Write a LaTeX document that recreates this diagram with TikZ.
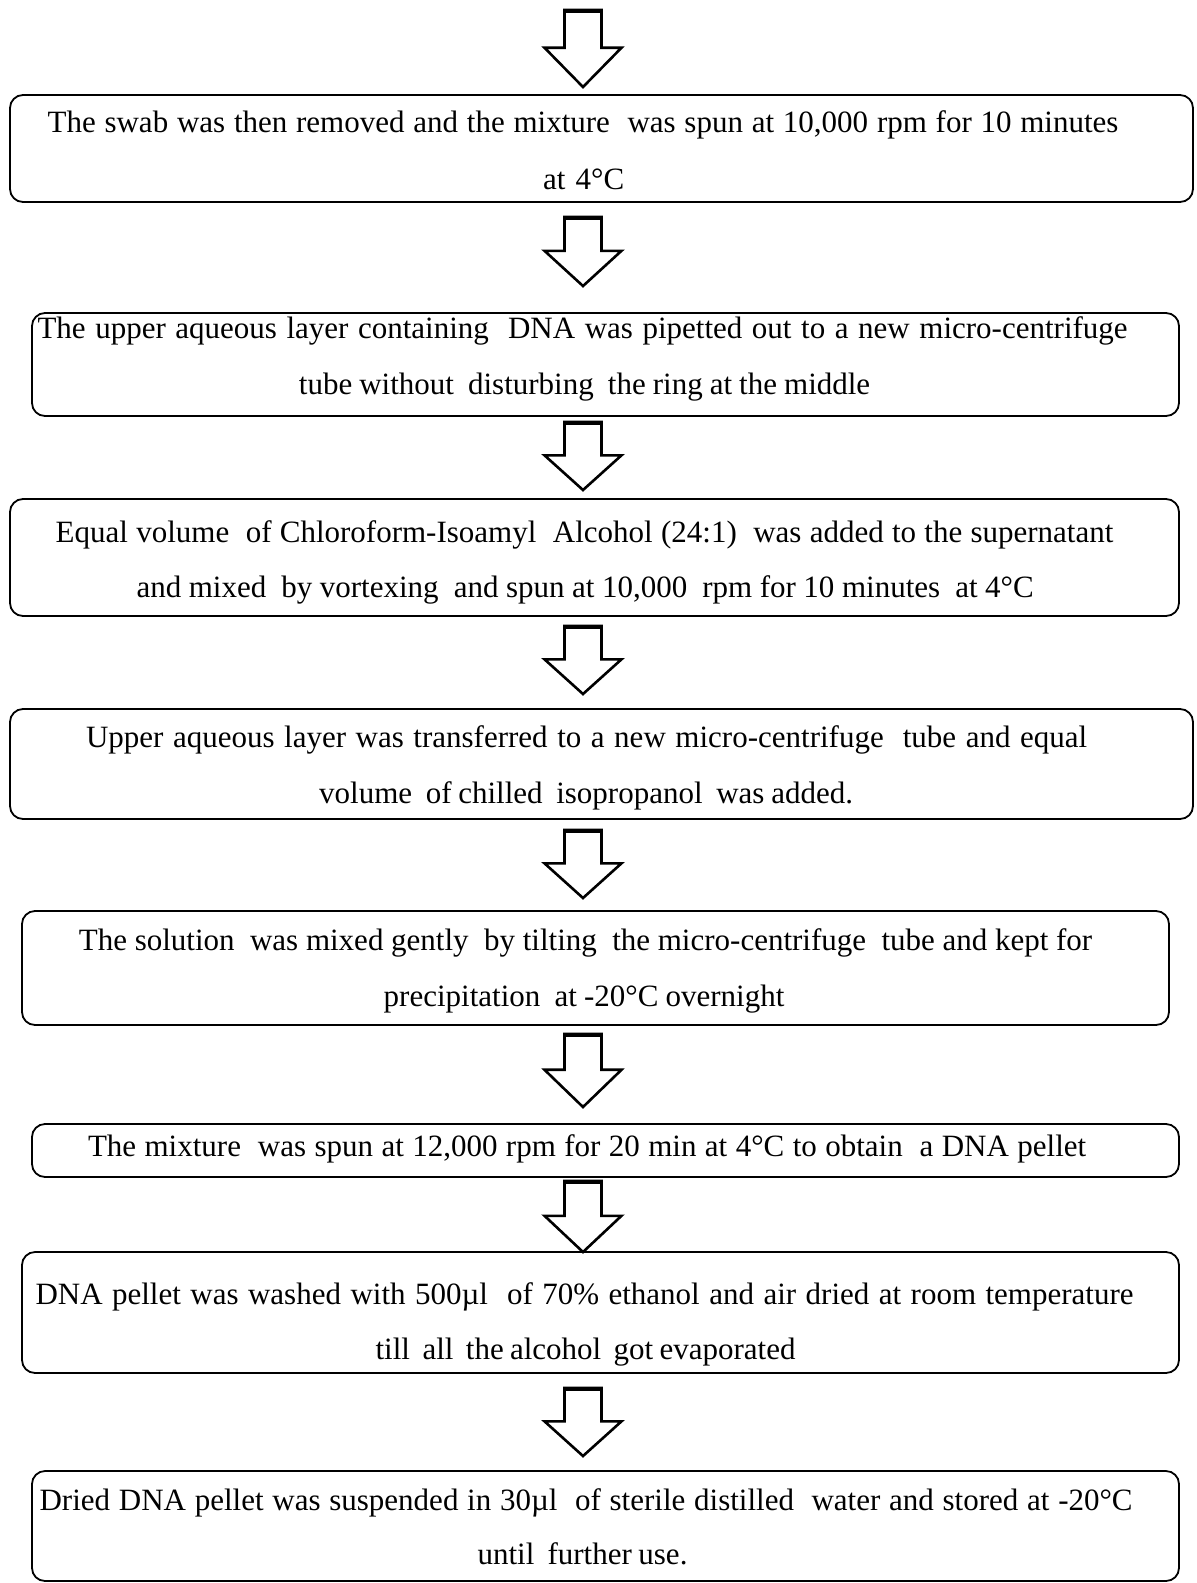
\documentclass[tikz,border=0pt]{standalone}
\usepackage{fontspec}
\setmainfont{Liberation Serif}
\begin{document}
\begin{tikzpicture}[x=1pt,y=-1pt,
  stepbox/.style={draw, line width=1.8pt, rounded corners=13pt, inner sep=0pt},
  steptext/.style={anchor=base west, inner sep=0pt, font=\fontsize{31}{36}\selectfont},
  blockarrow/.style={draw, line width=2.6pt, fill=white, line join=miter}]
\useasboundingbox (0,0) rectangle (1197,1583);
\newcommand{\flowarrow}[3]{%
  \pgfmathsetmacro{\shl}{#2+0.49*(#3-#2)}%
  \draw[blockarrow] (#1-18.5,#2) -- (#1+18.5,#2) -- (#1+18.5,\shl) -- (#1+38.5,\shl)
     -- (#1,#3) -- (#1-38.5,\shl) -- (#1-18.5,\shl) -- cycle;
  \draw[line width=4pt] (#1-18.5,#2+0.7) -- (#1+18.5,#2+0.7);}
\newcommand{\wline}[2]{\makebox[#1pt][s]{#2}}
% boxes
\node[stepbox, minimum width=1183pt, minimum height=107pt] (b1) at (601.5,148.5) {};
\node[stepbox, minimum width=1147pt, minimum height=103pt] (b2) at (605.5,364.5) {};
\node[stepbox, minimum width=1169pt, minimum height=117pt] (b3) at (594.5,557.5) {};
\node[stepbox, minimum width=1183pt, minimum height=110pt] (b4) at (601.5,764) {};
\node[stepbox, minimum width=1147pt, minimum height=114pt] (b5) at (595.5,968) {};
\node[stepbox, minimum width=1147pt, minimum height=53pt] (b6) at (605.5,1150.5) {};
\node[stepbox, minimum width=1157pt, minimum height=121pt] (b7) at (600.5,1312.5) {};
\node[stepbox, minimum width=1147pt, minimum height=110pt] (b8) at (605.5,1526) {};
% texts
\node[steptext] (t1a) at (47.4,132) {\wline{1070.9}{The swab was then removed and the mixture\ \ was spun at 10,000 rpm for 10 minutes}};
\node[steptext] (t1b) at (543,189) {\wline{81}{at 4°C}};
\node[steptext] (t2a) at (37.3,338) {\wline{1090.1}{The upper aqueous layer containing\ \ DNA was pipetted out to a new micro-centrifuge}};
\node[steptext] (t2b) at (298.7,394) {\wline{571.3}{tube without\ \ disturbing\ \ the ring at the middle}};
\node[steptext] (t3a) at (55.5,542) {\wline{1057.7}{Equal volume\ \ of Chloroform-Isoamyl\ \ Alcohol (24:1)\ \ was added to the supernatant}};
\node[steptext] (t3b) at (136.3,597) {\wline{897.2}{and mixed\ \ by vortexing\ \ and spun at 10,000\ \ rpm for 10 minutes\ \ at 4°C}};
\node[steptext] (t4a) at (85.8,747) {\wline{1001.2}{Upper aqueous layer was transferred to a new micro-centrifuge\ \ tube and equal}};
\node[steptext] (t4b) at (319,803) {\wline{533.8}{volume\ \ of chilled\ \ isopropanol\ \ was added.}};
\node[steptext] (t5a) at (78.7,950) {\wline{1013.3}{The solution\ \ was mixed gently\ \ by tilting\ \ the micro-centrifuge\ \ tube and kept for}};
\node[steptext] (t5b) at (383.5,1006) {\wline{400.7}{precipitation\ \ at -20°C overnight}};
\node[steptext] (t6) at (87.8,1156) {\wline{998.2}{The mixture\ \ was spun at 12,000 rpm for 20 min at 4°C to obtain\ \ a DNA pellet}};
\node[steptext] (t7a) at (35.3,1304) {\wline{1098.1}{DNA pellet was washed with 500µl\ \ of 70\% ethanol and air dried at room temperature}};
\node[steptext] (t7b) at (375.4,1359) {\wline{419.9}{till\ \ all\ \ the alcohol\ \ got evaporated}};
\node[steptext] (t8a) at (39.4,1510) {\wline{1093}{Dried DNA pellet was suspended in 30µl\ \ of sterile distilled\ \ water and stored at -20°C}};
\node[steptext] (t8b) at (477.4,1564) {\wline{209.9}{until\ \ further use.}};
% arrows
\flowarrow{583}{10}{87}
\flowarrow{583}{217}{286}
\flowarrow{583}{422}{490}
\flowarrow{583}{626}{694}
\flowarrow{583}{830}{898}
\flowarrow{583}{1034}{1107}
\flowarrow{583}{1181}{1252}
\flowarrow{583}{1388}{1456}
\end{tikzpicture}
\end{document}
